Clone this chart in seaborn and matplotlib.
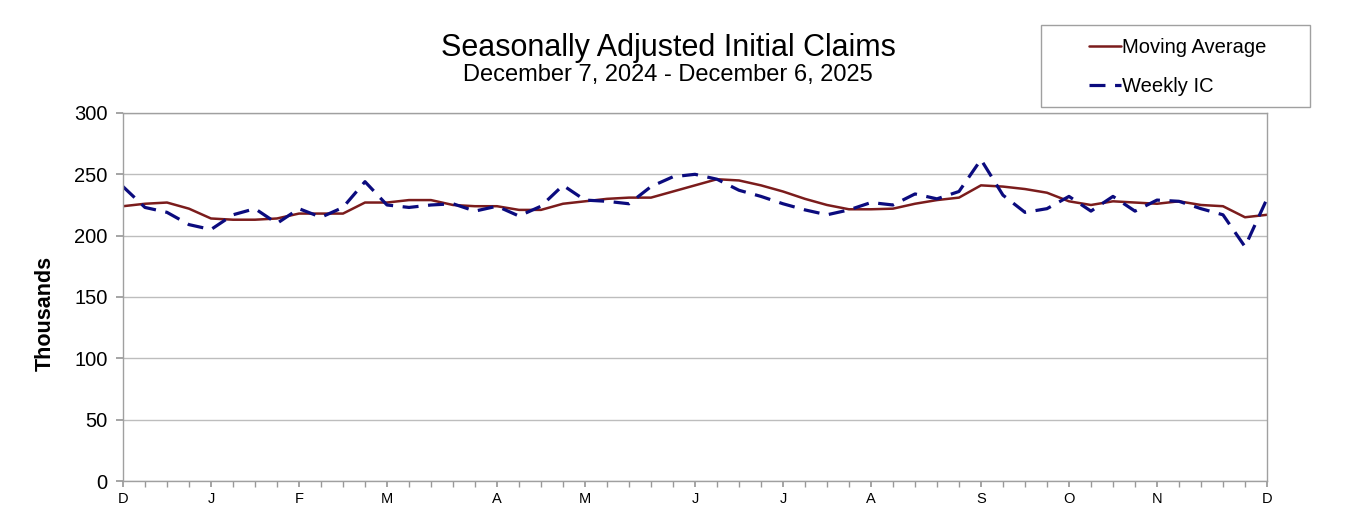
import pandas as pd
import seaborn as sns
import matplotlib.pyplot as plt
from matplotlib.patches import Rectangle

sns.set_theme(style="white")
plt.rcParams['font.family'] = ['Liberation Sans', 'DejaVu Sans']
plt.rcParams['text.color'] = 'black'
plt.rcParams['axes.labelcolor'] = 'black'

# weekly data, week ending Saturday
weeks = pd.date_range("2024-12-07", periods=53, freq="W-SAT")

weekly_ic = [240, 223, 219, 209, 205, 217, 222, 210, 222, 215,
             223, 244, 225, 223, 225, 226, 220, 224, 216, 224,
             241, 229, 228, 226, 240, 248, 250, 246, 237, 232,
             226, 221, 217, 221, 227, 225, 234, 230, 236, 262,
             233, 219, 222, 232, 220, 232, 220, 229, 228, 222,
             217, 191, 230]

moving_avg = [224, 226, 227, 222, 214, 213, 213, 214, 218, 218,
              218, 227, 227, 229, 229, 225, 224, 224, 221, 221,
              226, 228, 230, 231, 231, 236, 241, 246, 245, 241,
              236, 230, 225, 221.5, 221.5, 222, 226, 229, 231, 241,
              240, 238, 235, 228, 225, 228, 227, 226, 228, 225,
              224, 215, 217]

df = pd.DataFrame({"week": weeks, "Moving Average": moving_avg, "Weekly IC": weekly_ic})

fig = plt.figure(figsize=(13.5, 5.18), dpi=100)
ax = fig.add_axes([0.0911, 0.0714, 0.8474, 0.7105])

sns.lineplot(data=df, x="week", y="Moving Average", ax=ax, color="#7b1c1c",
             linewidth=1.8, label="Moving Average")
sns.lineplot(data=df, x="week", y="Weekly IC", ax=ax, color="#0b0b7e",
             linewidth=2.3, label="Weekly IC")
ax.lines[1].set_dashes((5, 3))

ax.set_xlim(weeks[0], weeks[-1])
ax.set_ylim(0, 300)
ax.set_yticks(range(0, 301, 50))
ax.yaxis.grid(True, color="#bdbdbd", linewidth=1)
ax.tick_params(axis="y", labelsize=14.5, length=5, color="#999999", labelcolor="black",
               left=True, pad=6)

# month letters at the first week of each month
first_of_month = [i for i in range(len(weeks)) if i == 0 or weeks[i].month != weeks[i - 1].month]
ax.set_xticks(weeks[first_of_month])
ax.set_xticklabels([weeks[i].strftime("%b")[0] for i in first_of_month], fontsize=10.5)
ax.set_xticks(weeks, minor=True)
ax.tick_params(axis="x", which="both", bottom=True, length=4, color="#999999",
               labelcolor="black", pad=4)
ax.set_xlabel("")
ax.set_ylabel("Thousands", fontsize=15.5, fontweight="bold")
ax.yaxis.set_label_coords(-0.059, 0.455)

for s in ax.spines.values():
    s.set_color("#a0a0a0")
    s.set_linewidth(1)

handles, labels = ax.get_legend_handles_labels()
ax.get_legend().remove()
fig.patches.append(Rectangle((0.771, 0.793), 0.199, 0.159, transform=fig.transFigure,
                             facecolor="white", edgecolor="#a0a0a0", linewidth=1))
fig.legend(handles, labels, loc="center left", bbox_to_anchor=(0.799, 0.871),
           frameon=False, fontsize=14.5, handlelength=1.6, handletextpad=0.05,
           labelspacing=1.0, borderpad=0)

fig.text(0.495, 0.908, "Seasonally Adjusted Initial Claims", ha="center", va="center", fontsize=22)
fig.text(0.495, 0.856, "December 7, 2024 - December 6, 2025", ha="center", va="center", fontsize=17)

fig.savefig("out.png", dpi=100)
